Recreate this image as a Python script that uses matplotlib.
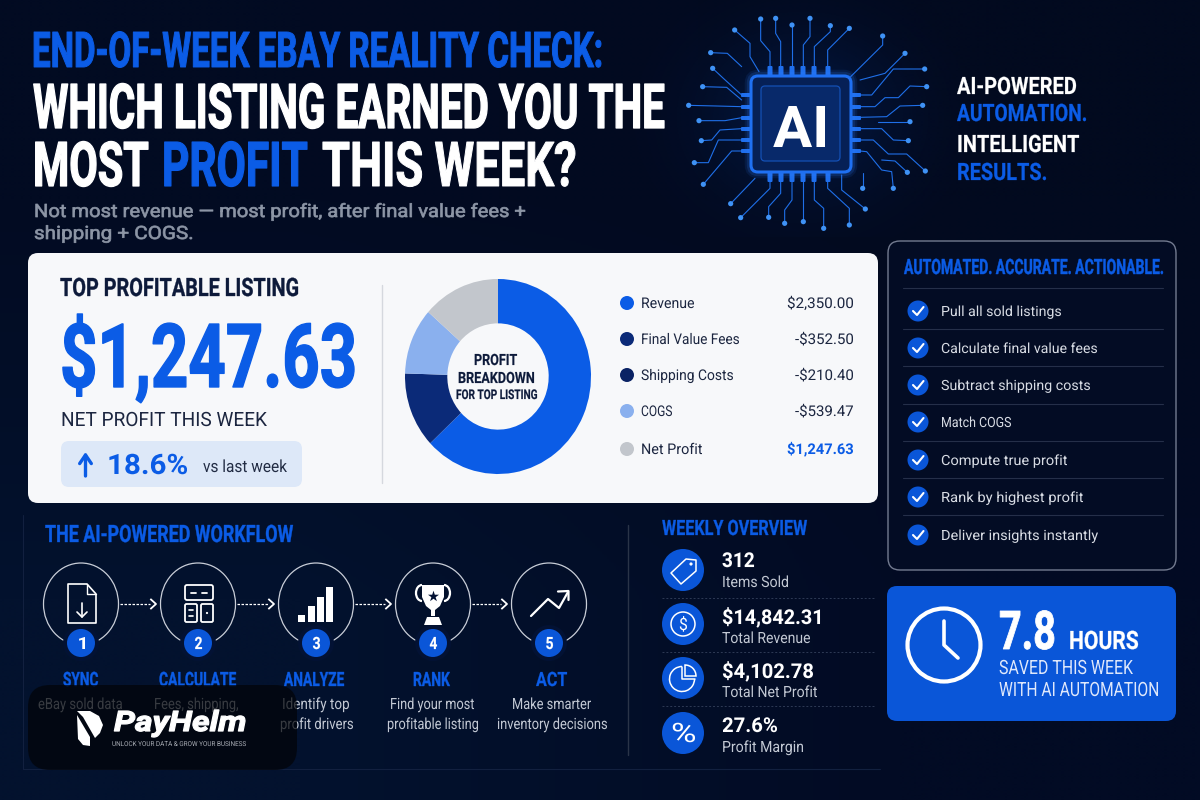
"""End-of-week eBay profit infographic, drawn on a 1200x800 pixel canvas."""
import numpy as np
import matplotlib
matplotlib.use("Agg")
import matplotlib.pyplot as plt
from matplotlib.colors import to_rgb
from matplotlib.font_manager import FontProperties
from matplotlib.patches import Circle, Ellipse, FancyBboxPatch, Polygon, Wedge, Arc
from matplotlib.patheffects import AbstractPathEffect
from matplotlib.textpath import TextPath
from matplotlib.transforms import Affine2D

# ---- palette ----
BLUE  = "#0b5ce6"
BOX   = "#0a56d8"
NAVY  = "#0b2a78"
NAVY2 = "#0a2264"
LIGHT = "#8ab0ee"
GREY  = "#c2c6cc"
INK   = "#0d1a3a"
CARD  = "#f7f8fa"
BG    = "#020b22"
SOFT  = "#c3c9d4"
FONT  = "Roboto"

# ---- data ----
donut_vals = [63, 12.5, 11, 13.5]
donut_cols = [BLUE, NAVY, LIGHT, GREY]
legend_names = ["Revenue", "Final Value Fees", "Shipping Costs", "COGS", "Net Profit"]
legend_vals = ["$2,350.00", "-$352.50", "-$210.40", "-$539.47", "$1,247.63"]
legend_cols = [BLUE, NAVY, NAVY2, LIGHT, GREY]
legend_y = [303, 339, 375, 411, 449]
legend_x1 = [694, 739, 733, 672, 702]
legend_v0 = [787, 795, 795, 795, 787]

check_items = ["Pull all sold listings", "Calculate final value fees", "Subtract shipping costs",
               "Match COGS", "Compute true profit", "Rank by highest profit",
               "Deliver insights instantly"]
check_x1 = [1061, 1097, 1090, 1011, 1067, 1083, 1098]
check_y = [311, 348, 385, 422, 460, 497, 535]

step_x = [81, 198, 316, 433, 549]
step_names = ["SYNC", "CALCULATE", "ANALYZE", "RANK", "ACT"]
step_spans = [(63, 98), (159, 236), (284, 344), (413, 450), (536, 567)]
step_line1 = [("eBay sold data", 38, 122), ("Fees, shipping,", 154, 238), ("Identify top", 282, 349),
              ("Find your most", 390, 474), ("Make smarter", 512, 591)]
step_line2 = [None, None, ("profit drivers", 280, 353),
              ("profitable listing", 387, 478), ("inventory decisions", 497, 607)]

week_vals = ["312", "$14,842.31", "$4,102.78", "27.6%"]
week_val_x1 = [754, 820, 813, 777]
week_val_y = [567, 624, 678, 732]
week_names = ["Items Sold", "Total Revenue", "Total Net Profit", "Profit Margin"]
week_name_x1 = [788, 810, 817, 803]
week_name_y = [587, 643, 697, 752]
week_icon_y = [570, 624, 678, 733]

# chip wiring, in 3x pixels of the chip crop (offset 640, 0)
traces = [
    [(390,200),(390,155),(362,122),(362,57)], [(422,200),(422,125),(407,100),(407,55)],
    [(456,200),(456,75)], [(490,200),(490,135),(510,110),(510,55)],
    [(523,200),(523,140),(571,95),(571,77)], [(563,200),(563,150),(628,85)],
    [(357,215),(330,170),(330,130),(284,90)], [(632,230),(728,135),(728,108)],
    [(660,240),(735,220),(795,160)], [(305,285),(250,235),(218,205)],
    [(305,300),(260,262),(188,260)], [(305,320),(230,318),(146,316)],
    [(305,353),(255,362),(177,362)], [(305,386),(240,390),(215,420),(184,422)],
    [(305,420),(235,420),(205,488),(163,488)], [(305,453),(275,453),(190,553)],
    [(305,200),(262,160),(212,158)], [(390,540),(390,565),(302,653)],
    [(345,535),(272,611)], [(422,540),(422,580),(386,620),(386,652)],
    [(456,540),(456,600),(434,630),(434,670)], [(490,540),(490,665)],
    [(523,540),(523,600),(551,625),(551,685)], [(563,540),(563,565),(628,625),(628,675)],
    [(605,525),(605,570),(676,627)], [(668,520),(668,565)],
    [(660,285),(695,285),(760,207),(854,207)],
    [(660,320),(705,320),(735,293),(775,293),(810,258),(860,260)],
    [(660,352),(740,350),(780,318),(848,316)], [(715,365),(810,365)],
    [(660,386),(725,386),(760,420),(805,422)],
    [(660,420),(700,420),(745,462),(800,462),(856,513)],
    [(660,453),(680,455),(725,510),(755,515),(760,565)], [(725,480),(765,483),(802,517)],
]
pin_x = [770, 781, 792, 803, 814, 828]
pin_y = [95, 107, 118, 129, 140, 151]


class Tall(AbstractPathEffect):
    """Stretch a text upward from its baseline (no condensed font installed), thickening it a bit."""
    def __init__(self, sy, stroke=0.0):
        self.sy = sy
        self.stroke = stroke

    def draw_path(self, renderer, gc, tpath, affine, rgbFace=None):
        tr = Affine2D().scale(1, self.sy) + affine
        if self.stroke > 0:
            gc0 = renderer.new_gc()
            gc0.copy_properties(gc)
            gc0.set_linewidth(self.stroke)
            gc0.set_foreground(rgbFace)
            renderer.draw_path(gc0, tpath, tr, rgbFace)
            gc0.restore()
        else:
            renderer.draw_path(gc, tpath, tr, rgbFace)


fig = plt.figure(figsize=(12, 8), dpi=100)
ax = fig.add_axes([0, 0, 1, 1])
ax.set_xlim(0, 1200)
ax.set_ylim(800, 0)
ax.axis("off")

corners = np.array([[to_rgb("#020b22"), to_rgb("#020a1f")],
                    [to_rgb("#03122e"), to_rgb("#020b24")]])
ax.imshow(corners, extent=(0, 1200, 800, 0), interpolation="bilinear", aspect="auto", zorder=0)


def put(s, x0, x1, base, cap, color="white", weight="normal", z=5, style="normal", stroke=None):
    """Text with its ink running from x0 to x1, baseline at base, capital height cap (px)."""
    em = cap / 0.711
    fp = FontProperties(family=FONT, weight=weight, style=style)
    natural = TextPath((0, 0), s, size=em, prop=fp).get_extents().x1
    sx = (x1 - x0) / natural
    if stroke is None:
        stroke = max(1 - sx, 0) * cap * 0.06 if weight == "bold" else 0.0
    t = ax.text(x0, base, s, fontsize=em * 0.72 * sx, color=color, family=FONT, weight=weight,
                style=style, ha="left", va="baseline", zorder=z)
    t.set_path_effects([Tall(1 / sx, stroke)])
    return t


def rbox(x0, y0, x1, y1, r, fc, ec="none", lw=0, alpha=None, z=2):
    p = FancyBboxPatch((x0, y0), x1 - x0, y1 - y0, boxstyle=f"round,pad=0,rounding_size={r}",
                       fc=fc, ec=ec, lw=lw, alpha=alpha, zorder=z)
    ax.add_patch(p)
    return p


def line(xs, ys, color="white", lw=1.0, z=4, **kw):
    ax.plot(xs, ys, color=color, lw=lw, zorder=z, solid_capstyle="round", **kw)


# ---- title block ----
put("END-OF-WEEK EBAY REALITY CHECK:", 32, 601, 67, 35, BLUE, "bold")
put("WHICH LISTING EARNED YOU THE", 33, 664, 128, 44, "white", "bold")
put("MOST", 33, 148, 186, 44, "white", "bold")
put("PROFIT", 162, 307, 186, 44, BLUE, "bold")
put("THIS WEEK?", 322, 575, 186, 44, "white", "bold")
put("Not most revenue \u2014 most profit, after final value fees +", 34, 525, 217, 13, "#8d96a6", stroke=0.5)
put("shipping + COGS.", 34, 192, 239, 13, "#8d96a6", stroke=0.5)

# ---- AI chip ----
gy, gx = np.mgrid[0:240, 0:340]
glow = np.zeros((240, 340, 4))
glow[..., :3] = to_rgb("#0b4fd0")
glow[..., 3] = 0.18 * np.exp(-(((gx - 170) / 95.0) ** 2 + ((gy - 120) / 80.0) ** 2))
ax.imshow(glow, extent=(632, 972, 237, -3), aspect="auto", zorder=1)
ax.set_xlim(0, 1200)
ax.set_ylim(800, 0)

for tr in traces:
    xs = [640 + p[0] / 3 for p in tr]
    ys = [p[1] / 3 for p in tr]
    line(xs, ys, "#1f6fe8", 0.8, z=2)
    ax.add_patch(Circle((xs[-1], ys[-1]), 2.6, fc="#3f92f5", ec="none", zorder=3))
for px in pin_x:
    rbox(px - 2.5, 66, px + 2.5, 77, 1, "#1f6fee", z=3)
    rbox(px - 2.5, 171, px + 2.5, 182, 1, "#1f6fee", z=3)
for py in pin_y:
    rbox(741, py - 2, 752, py + 2, 1, "#1f6fee", z=3)
    rbox(850, py - 2, 861, py + 2, 1, "#1f6fee", z=3)
for w, a in [(9, 0.10), (6, 0.16)]:
    rbox(751, 76, 851, 172, 7, "none", ec="#2f80ff", lw=w, alpha=a, z=3)
rbox(751, 76, 851, 172, 7, "#062056", ec="#1f70f2", lw=2.2, z=4)
rbox(761, 86, 840, 161, 4, "#08296a", ec="#1450b5", lw=0.9, z=4)
put("AI", 773, 825, 147, 41, "white", "bold")

put("AI-POWERED", 957, 1076, 94, 17, "white", "bold")
put("AUTOMATION.", 957, 1086, 121, 17, BLUE, "bold")
put("INTELLIGENT", 957, 1079, 152, 17, "white", "bold")
put("RESULTS.", 957, 1046, 180, 17, BLUE, "bold")

# ---- white card ----
rbox(28, 253, 878, 503, 10, CARD)
put("TOP PROFITABLE LISTING", 60, 298, 296, 18, INK, "bold")
put("$1,247.63", 60, 354, 387, 63, BLUE, "bold")
put("NET PROFIT THIS WEEK", 61, 267, 426, 14, "#1c2640")
rbox(61, 441, 302, 487, 8, "#dde8f8", z=3)
ax.annotate("", xy=(85.5, 452), xytext=(85.5, 476), zorder=5,
            arrowprops=dict(arrowstyle="->,head_width=0.42,head_length=0.62", color=BLUE, lw=2.4,
                            shrinkA=0, shrinkB=0))
put("18.6%", 107, 187, 474, 20, BLUE, "bold")
put("vs last week", 203, 287, 472, 12, "#222c44")
line([382, 382], [285, 483], "#d5d8de", 1.0, z=3)

dx0, dx1, dy0, dy1 = 405, 591, 279, 474
dax = fig.add_axes([dx0 / 1200, 1 - dy1 / 800, (dx1 - dx0) / 1200, (dy1 - dy0) / 800])
dax.pie(donut_vals, colors=donut_cols, startangle=90, counterclock=False, radius=1,
        wedgeprops=dict(width=0.455, lw=0))
dax.set_xlim(-1, 1)
dax.set_ylim(-1, 1)
dax.set_aspect("auto")
dax.patch.set_alpha(0)
dax.axis("off")

# text on top of the donut goes on its own layer
donut_text = [("PROFIT", 474, 517, 365, 11), ("BREAKDOWN", 458, 534, 383, 11),
              ("FOR TOP LISTING", 456, 537, 399, 9.5)]
ax = fig.add_axes([0, 0, 1, 1])
ax.set_xlim(0, 1200)
ax.set_ylim(800, 0)
ax.axis("off")
ax.patch.set_alpha(0)
for s, a, b, base, cap in donut_text:
    put(s, a, b, base, cap, INK, "bold")

for nm, val, col, y, nx1, vx0 in zip(legend_names, legend_vals, legend_cols, legend_y, legend_x1, legend_v0):
    ax.add_patch(Circle((627, y), 7, fc=col, ec="none", zorder=4))
    put(nm, 641, nx1, y + 5, 10.5, "#1c2640")
    last = nm == "Net Profit"
    put(val, vx0, 853, y + 5, 10.5, BLUE if last else "#1c2640", "bold" if last else "normal")

# ---- checklist panel ----
rbox(888, 241, 1176, 570, 12, "#030c24", ec="#737b90", lw=1.0)
put("AUTOMATED. ACCURATE. ACTIONABLE.", 904, 1163, 274, 15, BLUE, "bold")
for y in [288, 329, 366, 404, 441, 478, 515]:
    line([903, 1163], [y, y], "#252f49", 0.8, z=3)
for s, x1, y in zip(check_items, check_x1, check_y):
    ax.add_patch(Circle((918, y), 10.5, fc=BOX, ec="none", zorder=4))
    line([913, 917, 923.5], [y, y + 4, y - 4], "white", 1.5, z=5)
    put(s, 941, x1, y + 5, 10, "#d8dce4")

# ---- time saved box ----
rbox(887, 586, 1176, 721, 10, BOX)
ax.add_patch(Circle((944, 645), 36.5, fc="none", ec="white", lw=3.0, zorder=4))
line([944, 944, 958], [621, 645, 658], "white", 2.6)
put("7.8", 999, 1054, 649, 38, "white", "bold")
put("HOURS", 1069, 1138, 649, 18, "white", "bold")
put("SAVED THIS WEEK", 999, 1133, 674, 14, "#dfe8fb")
put("WITH AI AUTOMATION", 999, 1158, 696, 14, "#dfe8fb")

# ---- weekly overview ----
line([628, 628], [525, 755], "#2a3448", 1.0, z=2)
put("WEEKLY OVERVIEW", 662, 807, 535, 15, BLUE, "bold")
for y in [598, 652, 706]:
    line([662, 874], [y, y], "#2e3a55", 0.7, z=2, ls=(0, (2, 2)))
for y in week_icon_y:
    ax.add_patch(Circle((683, y), 21, fc=BOX, ec="none", zorder=3))
for s, x1, y in zip(week_vals, week_val_x1, week_val_y):
    put(s, 722, x1, y, 14.5, "white", "bold")
for s, x1, y in zip(week_names, week_name_x1, week_name_y):
    put(s, 722, x1, y, 11, SOFT)

# tag
ty = week_icon_y[0]
ax.add_patch(Polygon([(671, ty + 3), (686, ty - 11), (696, ty - 10), (696, ty + 1), (681, ty + 14)],
                     closed=True, fc="none", ec="white", lw=1.1, joinstyle="round", zorder=5))
ax.add_patch(Circle((691, ty - 6), 1.6, fc="white", ec="none", zorder=5))
# dollar
dy = week_icon_y[1]
ax.add_patch(Circle((683, dy), 12, fc="none", ec="white", lw=1.1, zorder=5))
put("$", 679, 687, dy + 6, 12, "white")
# pie
py = week_icon_y[2]
ax.add_patch(Arc((682, py + 1), 25, 25, theta1=0, theta2=270, color="white", lw=1.1, zorder=5))
line([682, 682, 694.5], [py - 11, py + 1, py + 1], "white", 1.1, z=5)
ax.add_patch(Wedge((685, py - 2), 11, 270, 360, fc="none", ec="white", lw=1.1, zorder=5))
# percent
put("%", 671, 695, week_icon_y[3] + 9, 19, "white")

# ---- workflow ----
line([23, 23], [515, 769], "#12203f", 0.8, z=1)
line([23, 880], [769, 769], "#12203f", 0.8, z=1)
put("THE AI-POWERED WORKFLOW", 45, 293, 542, 17, BLUE, "bold")
for i, x in enumerate(step_x):
    ax.add_patch(Ellipse((x, 604), 75, 82, fc="none", ec="#c9ced8", lw=0.9, zorder=3))
    ax.add_patch(Circle((x, 643), 18, fc="#031234", ec="none", zorder=4))
    ax.add_patch(Circle((x, 643), 14, fc=BOX, ec="none", zorder=5))
    put(str(i + 1), x - 3.5, x + 4, 649, 12, "white", "bold", z=6)
    nm = step_names[i]
    a, b = step_spans[i]
    put(nm, a, b, 686, 14, BLUE, "bold")
    s, a, b = step_line1[i]
    put(s, a, b, 709, 11, SOFT)
    if step_line2[i]:
        s, a, b = step_line2[i]
        put(s, a, b, 729, 11, SOFT)
    if i < 4:
        x0, x1 = x + 39, step_x[i + 1] - 42
        ax.plot([x0, x1 - 6], [604, 604], color="white", lw=0.9, ls=(0, (2, 1.2)), zorder=4)
        ax.plot([x1 - 5, x1, x1 - 5], [599.5, 604, 608.5], color="white", lw=1.3, zorder=4)

# step icons
x = step_x[0]
ax.add_patch(Polygon([(68, 584), (87, 584), (96, 594), (96, 623), (68, 623)], closed=True,
                     fc="none", ec="white", lw=1.2, joinstyle="round", zorder=5))
line([87, 87, 96], [584, 594, 594], "white", 1.0, z=5)
line([82, 82], [603, 617], "white", 1.2, z=5)
line([77, 82, 87], [612, 617, 612], "white", 1.2, z=5)

rbox(185, 585, 213, 600, 2, "none", ec="white", lw=1.3, z=5)
rbox(185, 604, 197, 622, 1.5, "none", ec="white", lw=1.3, z=5)
rbox(201, 604, 213, 622, 1.5, "none", ec="white", lw=1.3, z=5)
line([191, 196], [592.5, 592.5], "white", 1.3, z=5)
line([202, 207], [592.5, 592.5], "white", 1.3, z=5)
line([189, 193], [610, 610], "white", 1.2, z=5)
line([189, 193], [616, 616], "white", 1.2, z=5)
ax.add_patch(Circle((207, 613), 1.1, fc="white", ec="none", zorder=5))

bar_x = [298, 308, 317, 326]
bar_top = [615, 606, 597, 587]
ax.bar(bar_x, [622 - t for t in bar_top], bottom=bar_top, width=7, align="edge", color="white", zorder=5)
ax.set_xlim(0, 1200)
ax.set_ylim(800, 0)

ax.add_patch(Polygon([(422, 585), (444, 585), (444, 597), (440, 606), (435, 610), (435, 616),
                      (431, 616), (431, 610), (426, 606), (422, 597)], closed=True, fc="white", ec="none", zorder=5))
ax.add_patch(Polygon([(424, 625), (442, 625), (439, 617), (427, 617)], closed=True, fc="white", ec="none", zorder=5))
ax.add_patch(Arc((422, 593), 12, 16, theta1=90, theta2=270, color="white", lw=1.6, zorder=5))
ax.add_patch(Arc((444, 593), 12, 16, theta1=-90, theta2=90, color="white", lw=1.6, zorder=5))
ax.scatter([433], [596], marker="*", s=70, color="#031234", zorder=6, lw=0)

line([531, 548, 559, 568], [616, 599, 608, 592], "white", 1.6, z=5)
line([558, 568.5, 568.5], [591.5, 591, 600], "white", 1.6, z=5)

# ---- PayHelm badge ----
rbox(28, 685, 297, 770, 22, "#020408", alpha=0.72, z=10)
ax.add_patch(Polygon([(77, 711), (90, 711), (99, 716), (103, 725), (100, 733), (95, 738), (83, 717)],
                     closed=True, fc="white", ec="none", zorder=11))
ax.add_patch(Polygon([(77, 715), (90, 737), (90, 746), (83, 745), (78, 739)],
                     closed=True, fc="white", ec="none", zorder=11))
put("PayHelm", 114, 245, 731, 20, "white", "bold", z=11, style="italic", stroke=0.9)
put("UNLOCK YOUR DATA & GROW YOUR BUSINESS", 112, 246, 746, 4.8, "#a9adb5", z=11)

fig.savefig("out.png", dpi=100, facecolor=BG)
